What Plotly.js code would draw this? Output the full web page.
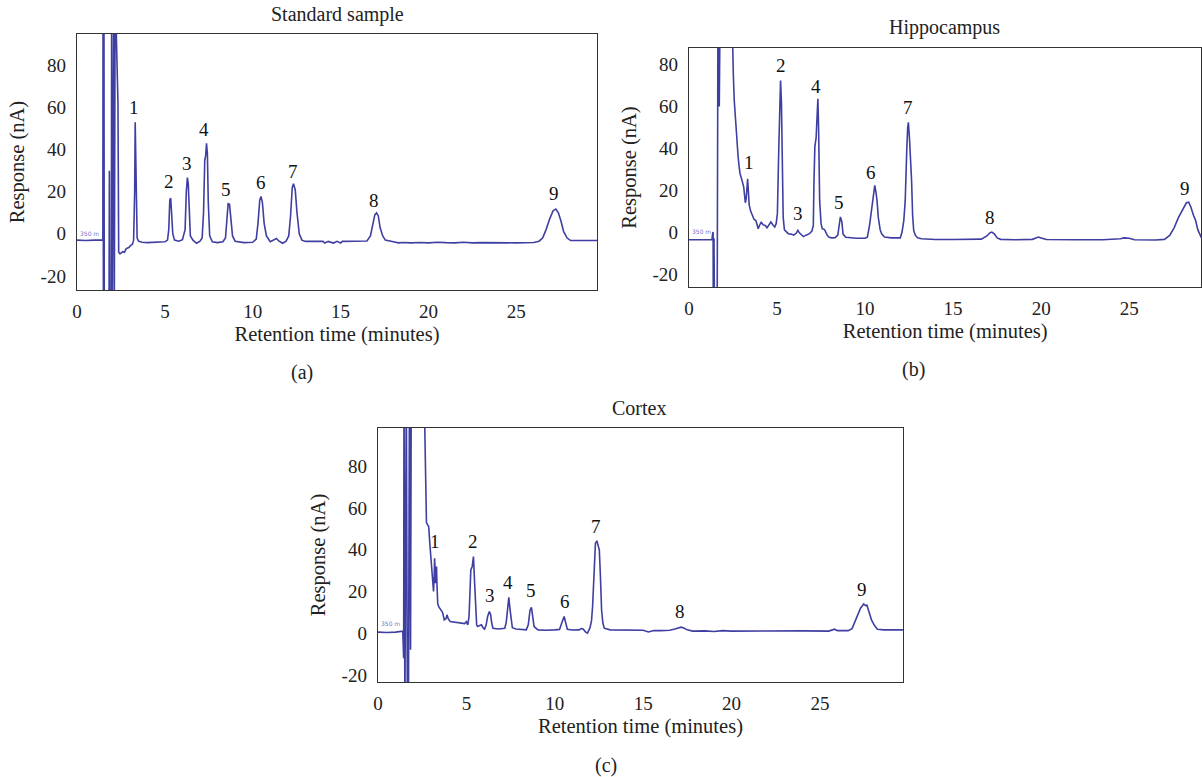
<!DOCTYPE html>
<html>
<head>
<meta charset="utf-8">
<script src="https://cdn.plot.ly/plotly-3.0.1.min.js"></script>
<style>html,body{margin:0;padding:0;background:#fff;}#chart{width:1202px;height:777px;}</style>
</head>
<body>
<div id="chart"></div>
<script>
// ---------- Data ----------
const stdTime = [0,0.5,1.0,1.4,1.47,1.48,1.50,1.53,1.55,1.82,1.84,1.86,1.95,1.97,2.0,2.10,2.12,2.17,2.22,2.27,2.33,2.37,
  2.45,2.6,2.7,2.8,2.95,3.05,3.15,3.22,3.26,3.28,3.31,3.34,3.37,3.42,3.5,3.7,4.0,4.5,5.0,5.15,5.22,5.28,5.33,5.38,5.45,5.55,
  5.8,6.0,6.15,6.22,6.28,6.33,6.38,6.45,6.6,6.8,7.0,7.12,7.2,7.27,7.32,7.37,7.42,7.47,7.55,7.7,8.0,8.3,8.45,8.53,8.6,8.68,
  8.75,8.85,9.0,9.5,10.0,10.2,10.3,10.4,10.47,10.55,10.65,10.78,11.0,11.2,11.35,11.5,11.7,11.9,12.05,12.15,12.25,12.32,
  12.42,12.52,12.65,12.8,13.0,14.0,14.1,14.3,14.6,14.8,15.0,15.1,16.0,16.5,16.7,16.85,16.95,17.05,17.15,17.25,17.4,17.55,
  17.8,18.0,18.3,18.6,19.0,19.5,20.0,20.5,21.0,21.5,22.0,22.5,23.0,24.0,24.5,25.0,26.0,26.3,26.5,26.7,26.9,27.1,27.25,
  27.4,27.55,27.7,27.9,28.1,29.6];
const stdResp = [-3,-3.2,-3,-3,-3,120,-40,120,-40,-40,30,-40,-40,120,-40,120,-40,120,100,73,62,-8.6,
  -9.5,-8.5,-8.8,-7,-6.5,-5.5,-5,-3,10,20,53,35,10,-2,-3.5,-4,-4.2,-4,-3.8,-3,2,16,17,10,0,-3,
  -3.5,-2.8,2,20,26.7,24,10,-1,-3,-4.5,-3.5,-2,10,35,37,43,38,15,-1,-3.8,-4.2,-3.8,-2,10,14.3,14,
  8,-1,-3.5,-4.2,-4,-2.5,5,16,17.8,15,5,-1,-3.8,-3,-2.2,-3.5,-4.5,-3.5,-1,8,22,23.8,
  21,10,0,-3,-3.6,-3.6,-4.4,-3.6,-4.4,-3.6,-4.4,-3.6,-3.6,-3.4,-1,5,9,10,8.5,3,-1,-3,
  -3.6,-3.8,-4.3,-4.1,-4.3,-4.1,-4.3,-4.0,-4.2,-4.3,-4.0,-4.3,-4.2,-4.3,-4.0,-4.3,-4.1,-3.5,-2,2,7,11,11.8,
  10,6,1,-2,-3.2,-3.2];

const hipTime = [0,0.5,1.0,1.3,1.35,1.37,1.38,1.42,1.45,1.6,1.65,1.72,1.78,2.4,2.46,2.52,2.57,2.63,2.68,2.74,2.79,2.85,2.9,
  3.0,3.11,3.15,3.2,3.25,3.3,3.33,3.37,3.42,3.5,3.6,3.7,3.8,3.93,4.0,4.1,4.2,4.35,4.43,4.55,4.65,4.75,4.87,4.95,5.02,5.1,
  5.15,5.2,5.25,5.3,5.35,5.42,5.55,5.64,5.8,5.95,6.1,6.18,6.28,6.4,6.5,6.65,6.84,6.98,7.06,7.1,7.15,7.22,7.28,7.32,7.36,
  7.42,7.5,7.57,7.65,7.72,7.85,7.94,8.1,8.3,8.45,8.53,8.6,8.68,8.75,8.9,9.14,9.5,10.0,10.13,10.25,10.3,10.4,10.5,10.55,
  10.62,10.68,10.75,10.86,10.95,11.1,11.5,12.0,12.1,12.2,12.28,12.33,12.37,12.42,12.46,12.52,12.58,12.64,12.7,12.76,
  12.85,12.98,13.2,13.53,14.0,15.0,16.0,16.6,16.9,17.1,17.2,17.35,17.5,17.7,18.5,19.5,19.7,19.85,20.0,20.3,22.0,23.5,
  24.5,24.7,25.0,25.3,26.5,27.0,27.3,27.55,27.8,28.05,28.25,28.38,28.5,28.65,28.77,28.9,29.1];
const hipResp = [-3.7,-3.8,-3.7,-3.7,-0.5,0,-40,-3,-40,-40,120,60,120,120,86,75,63,55,47,40,36,31,28,
  25,21.5,18,14,16,20,25.5,20,13,10,8,6,5.5,1.6,3,4.8,3.5,3,2,3.5,4.8,3.6,2.4,4,8.8,40,
  60,72.4,62,20,7,1,0,-0.8,-1,-1.5,-0.5,0.8,-0.5,-1.5,-2.2,-1.5,-0.8,0.5,3,25,41,45,60,63.7,50,
  15,4,1.6,1.5,0.8,-1.5,-2.4,-2.8,-2.7,-1.5,3,7.2,5,-1,-2.5,-2.8,-3,-3,-2.5,3,6.4,12,20,22.3,
  19,15,7,1,-1,-2.4,-2.8,-2.8,0,5.6,15,35,40,50,52.5,45,37,25,8,0.8,
  -1.5,-2.7,-3.2,-3.5,-3.6,-3.6,-3.6,-3.4,-2,-0.3,0,-1,-2.8,-3.5,-3.7,-3.5,-2.8,-2.4,-2.8,-3.6,-3.7,-3.7,
  -3.2,-2.8,-3.0,-3.7,-3.8,-3.5,-1.6,2,7,11,14,14.3,12,8,5.6,1,-2.7];

const ctxTime = [0,0.5,1.0,1.3,1.40,1.45,1.47,1.52,1.6,1.66,1.72,1.78,1.84,1.88,2.6,2.65,2.7,2.74,2.8,2.87,2.93,2.98,3.04,
  3.09,3.14,3.18,3.2,3.23,3.25,3.28,3.31,3.34,3.38,3.45,3.55,3.65,3.75,3.85,3.9,3.97,4.08,4.3,4.6,4.9,5.0,5.08,5.15,5.2,
  5.25,5.33,5.4,5.46,5.52,5.58,5.63,5.75,5.85,5.95,6.03,6.12,6.2,6.3,6.37,6.43,6.5,6.8,7.17,7.25,7.33,7.4,7.46,7.52,7.6,
  7.8,8.1,8.39,8.5,8.6,8.68,8.75,8.83,9.05,9.5,10.0,10.27,10.4,10.53,10.62,10.71,11.0,11.37,11.5,11.6,11.75,11.85,11.99,
  12.08,12.14,12.22,12.3,12.38,12.45,12.52,12.58,12.65,12.72,12.8,13.13,14.0,14.5,15.0,15.3,15.6,16.0,16.5,16.8,17.0,
  17.15,17.3,17.5,17.8,18.5,19.0,19.5,20.0,21.0,22.0,23.0,24.0,25.5,25.7,25.83,26.0,26.6,26.82,27.0,27.15,27.3,27.48,
  27.58,27.66,27.8,27.92,28.1,28.26,28.6,29.0,29.5,29.7];
const ctxResp = [0.5,0.3,0.5,0.8,1,-12,120,-40,120,-40,-40,120,-8,120,120,100,70,53,52,51,43,36.7,28,
  21,20,28,35.9,30,24,28,32,22,14,12.5,11.5,10,6.4,7,8.8,7,5.6,5.3,5.2,4.6,5.5,4,8,20,
  30.3,32,36.7,25,9.6,4,3.2,3.8,4,2.5,1.9,4,8,10.4,9,5,2.4,2.0,2.4,5,11.2,17.2,12,8,2.6,
  2,1.8,1.6,4,11,12.4,9,3.2,1.6,1.4,1.6,1.8,5,8,5,1.9,1.5,1.6,2.2,2.0,0.5,0,2.5,
  6,12.8,30,43,44.3,42,40,28,11,5,2.4,1.6,1.5,1.2,1.4,0.6,1.3,1.2,1.4,2,2.7,
  2.9,2.5,1.6,1.0,1.1,0.8,1.2,1,1.1,1.0,1,1.1,1.0,1.6,1.9,1.2,1.2,2.2,6,9.6,12,14,
  13.2,13.5,10,6.4,3.5,1.9,1.6,1.5,1.6,1.6];

// Peak label numbers and their positions (time, response)
const peakNames = ['1','2','3','4','5','6','7','8','9'];
const stdLabelT = [3.25,5.22,6.25,7.24,8.5,10.46,12.28,16.93,27.15];
const stdLabelR = [60,24.7,33.5,49.4,21,24.2,29.5,16,19];
const hipLabelT = [3.38,5.2,6.18,7.21,8.53,10.31,12.43,17.08,28.16];
const hipLabelR = [33.4,79.6,8.8,69.6,14.3,28.7,59.7,6.8,20.7];
const ctxLabelT = [3.25,5.36,6.34,7.33,8.68,10.6,12.36,17.06,27.37];
const ctxLabelR = [43.9,43.9,18.3,24.2,20.7,15.2,51,10.4,21];

const panelTitles = ['Standard sample','Hippocampus','Cortex'];
const panelLetters = ['(a)','(b)','(c)'];
const xTickVals = [0,5,10,15,20,25];
const yTickVals = [-20,0,20,40,60,80];
const yTickText = ['-20','0','20','40','60','80'];

// ---------- Styling ----------
const FONT = 'Liberation Serif, Times New Roman, serif';
const LINE = '#3f3fa2';

function trace(x, y, xa, ya) {
  return {x: x, y: y, xaxis: xa, yaxis: ya, type: 'scatter', mode: 'lines',
    line: {color: LINE, width: 1.6}, hoverinfo: 'skip', showlegend: false};
}
const data = [
  trace(stdTime, stdResp, 'x', 'y'),
  trace(hipTime, hipResp, 'x2', 'y2'),
  trace(ctxTime, ctxResp, 'x3', 'y3')
];

function xax(domain, range, anchor) {
  return {domain: domain, range: range, anchor: anchor, tickvals: xTickVals,
    ticks: 'outside', ticklen: 4, tickcolor: 'rgba(0,0,0,0)',
    showline: true, mirror: true, linecolor: '#333', linewidth: 1.3,
    showgrid: false, zeroline: false, automargin: false,
    tickfont: {family: FONT, size: 19, color: '#222'},
    title: {text: 'Retention time (minutes)', font: {family: FONT, size: 20.5, color: '#222'}, standoff: 5}};
}
function yax(domain, range, anchor) {
  return {domain: domain, range: range, anchor: anchor, tickvals: yTickVals, ticktext: yTickText,
    ticks: 'outside', ticklen: 6, tickcolor: 'rgba(0,0,0,0)',
    showline: true, mirror: true, linecolor: '#333', linewidth: 1.3,
    showgrid: false, zeroline: false, automargin: false,
    tickfont: {family: FONT, size: 19, color: '#222'},
    title: {text: 'Response (nA)', font: {family: FONT, size: 20.5, color: '#222'}, standoff: 10}};
}

const annotations = [];
function addPeakLabels(ts, rs, xa, ya) {
  for (let i = 0; i < peakNames.length; i++) {
    annotations.push({x: ts[i], y: rs[i], xref: xa, yref: ya, text: peakNames[i], showarrow: false,
      xanchor: 'center', yanchor: 'middle', font: {family: FONT, size: 19, color: '#111'}});
  }
}
addPeakLabels(stdLabelT, stdLabelR, 'x', 'y');
addPeakLabels(hipLabelT, hipLabelR, 'x2', 'y2');
addPeakLabels(ctxLabelT, ctxLabelR, 'x3', 'y3');

const titlePos = [[0.2804, 0.981], [0.786, 0.964], [0.532, 0.475]];
const letterPos = [[0.251, 0.520], [0.760, 0.524], [0.504, 0.015]];
for (let i = 0; i < 3; i++) {
  annotations.push({xref: 'paper', yref: 'paper', x: titlePos[i][0], y: titlePos[i][1], text: panelTitles[i],
    showarrow: false, xanchor: 'center', yanchor: 'middle', font: {family: FONT, size: 20, color: '#222'}});
  annotations.push({xref: 'paper', yref: 'paper', x: letterPos[i][0], y: letterPos[i][1], text: panelLetters[i],
    showarrow: false, xanchor: 'center', yanchor: 'middle', font: {family: FONT, size: 20, color: '#222'}});
}
// small instrument marker near the left baseline
const markerAxes = [['x','y',-2.5],['x2','y2',-2.5],['x3','y3',2.2]];
markerAxes.forEach(m => annotations.push({x: 0.05, y: m[2], xref: m[0], yref: m[1], text: '350 m',
  showarrow: false, xanchor: 'left', yanchor: 'bottom', font: {family: 'DejaVu Sans', size: 6, color: '#7777cc'}}));

const layout = {
  width: 1202, height: 777,
  margin: {l: 0, r: 0, t: 0, b: 0, autoexpand: false},
  paper_bgcolor: '#fff', plot_bgcolor: '#fff',
  showlegend: false,
  xaxis: xax([0.0641, 0.4967], [0, 29.6], 'y'),
  yaxis: yax([0.6268, 0.9562], [-26.7, 95], 'x'),
  xaxis2: xax([0.5732, 0.9995], [0, 29.1], 'y2'),
  yaxis2: yax([0.6306, 0.9382], [-26.3, 88], 'x2'),
  xaxis3: xax([0.3145, 0.7512], [0, 29.7], 'y3'),
  yaxis3: yax([0.1223, 0.4492], [-23.4, 98.4], 'x3'),
  annotations: annotations
};

Plotly.newPlot('chart', data, layout, {staticPlot: true, displayModeBar: false});
</script>
</body>
</html>
